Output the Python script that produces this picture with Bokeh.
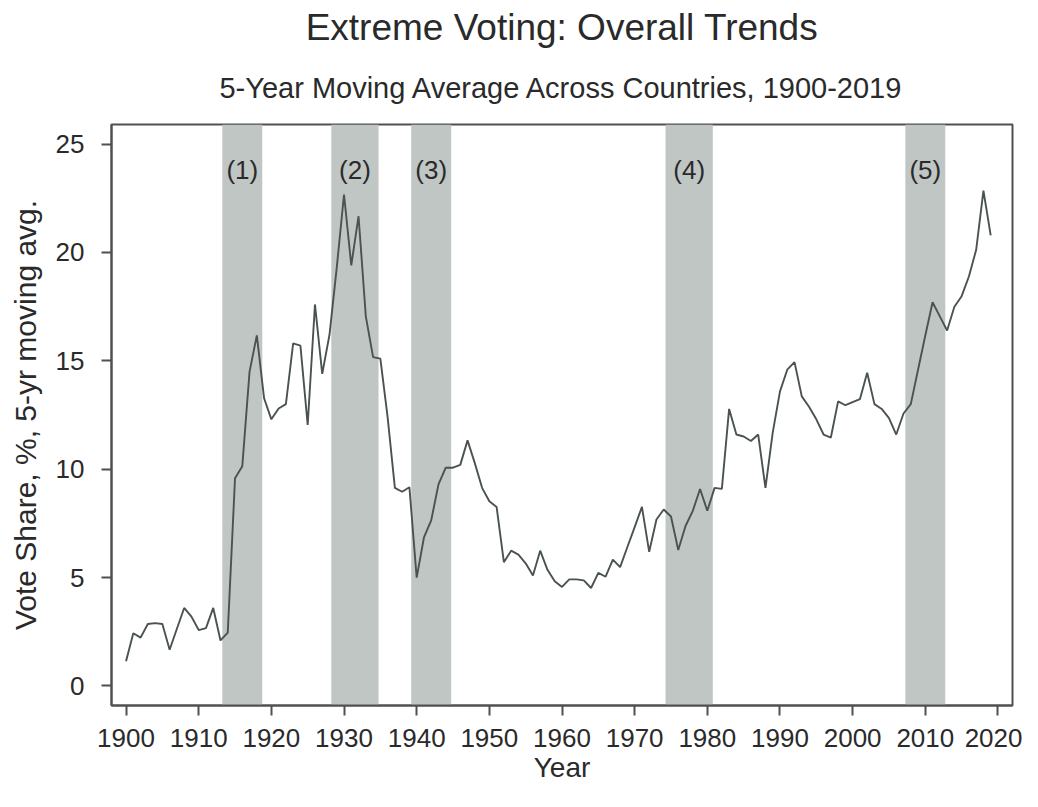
from bokeh.plotting import figure
from bokeh.models import Range1d, FixedTicker, BoxAnnotation, Title, ColumnDataSource
from bokeh.core.properties import value
from bokeh.embed import file_html
from bokeh.resources import INLINE

years = list(range(1900, 2020))
vote_share = [
    1.14, 2.43, 2.23, 2.86, 2.90, 2.86, 1.67, 2.64, 3.60, 3.20,
    2.58, 2.67, 3.60, 2.10, 2.46, 9.58, 10.14, 14.50, 16.17, 13.27,
    12.30, 12.80, 13.00, 15.80, 15.70, 12.04, 17.60, 14.40, 16.20, 19.30,
    22.67, 19.40, 21.67, 17.05, 15.17, 15.10, 12.40, 9.14, 8.96, 9.17,
    5.00, 6.85, 7.64, 9.30, 10.07, 10.07, 10.20, 11.33, 10.28, 9.14,
    8.52, 8.26, 5.71, 6.24, 6.06, 5.66, 5.10, 6.24, 5.36, 4.83,
    4.57, 4.92, 4.92, 4.87, 4.52, 5.22, 5.04, 5.83, 5.48, 6.41,
    7.33, 8.26, 6.19, 7.68, 8.14, 7.82, 6.27, 7.38, 8.08, 9.09,
    8.08, 9.14, 9.09, 12.78, 11.60, 11.51, 11.30, 11.60, 9.14, 11.69,
    13.59, 14.59, 14.94, 13.36, 12.88, 12.30, 11.60, 11.46, 13.13, 12.95,
    13.09, 13.23, 14.45, 13.00, 12.78, 12.36, 11.60, 12.57, 13.00, 14.59,
    16.17, 17.70, 17.05, 16.40, 17.49, 17.98, 18.89, 20.12, 22.85, 20.79,
]

band_starts = [1913.25, 1928.25, 1939.25, 1974.25, 2007.25]
band_ends = [1918.75, 1934.75, 1944.75, 1980.75, 2012.75]
band_labels = ["(1)", "(2)", "(3)", "(4)", "(5)"]
band_label_y = 23.8

x_ticks = list(range(1900, 2021, 10))
y_ticks = [0, 5, 10, 15, 20, 25]

title_text = "Extreme Voting: Overall Trends"
subtitle_text = "5-Year Moving Average Across Countries, 1900-2019"
x_label = "Year"
y_label = "Vote Share, %, 5-yr moving avg."

FONT = "Liberation Sans"
TXT = "#2a2a2a"
AX = "#505050"

p = figure(width=1022, height=791, output_backend="svg", toolbar_location=None,
           title=None,
           x_range=Range1d(1898, 2022), y_range=Range1d(-0.9, 25.9),
           min_border_left=111, min_border_right=10, min_border_top=124, min_border_bottom=86)

p.add_layout(Title(text=subtitle_text, align="center", text_font=FONT, text_font_size="29px",
                   text_font_style="normal", text_color=TXT, standoff=41), "above")
p.add_layout(Title(text=title_text, align="center", text_font=FONT, text_font_size="37px",
                   text_font_style="normal", text_color=TXT, standoff=3), "above")

p.xgrid.visible = False
p.ygrid.visible = False
p.background_fill_color = "white"
p.border_fill_color = "white"
p.outline_line_color = AX
p.outline_line_width = 2
p.outline_line_alpha = 1

for s, e in zip(band_starts, band_ends):
    p.add_layout(BoxAnnotation(left=s, right=e, fill_color="#c0c6c4", fill_alpha=1,
                               line_color=None, level="underlay"))

centers = [(s + e) / 2 for s, e in zip(band_starts, band_ends)]
src = ColumnDataSource(dict(x=centers, y=[band_label_y] * len(centers), t=band_labels))
p.text(x="x", y="y", text="t", source=src, text_font=value(FONT), text_font_size="26px",
       text_color=TXT, text_align="center", text_baseline="middle")

p.line(years, vote_share, line_color="#4a5252", line_width=1.9)

p.xaxis.ticker = FixedTicker(ticks=x_ticks)
p.yaxis.ticker = FixedTicker(ticks=y_ticks)
for ax in (p.xaxis[0], p.yaxis[0]):
    ax.axis_line_color = AX
    ax.axis_line_width = 2
    ax.major_tick_line_color = AX
    ax.major_tick_line_width = 2
    ax.major_tick_out = 10
    ax.major_tick_in = 0
    ax.minor_tick_line_color = None
    ax.major_label_text_font = FONT
    ax.major_label_text_color = TXT
    ax.axis_label_text_font = FONT
    ax.axis_label_text_color = TXT
    ax.axis_label_text_font_style = "normal"

p.xaxis.major_label_text_font_size = "26px"
p.xaxis.major_label_standoff = 13
p.xaxis.axis_label = x_label
p.xaxis.axis_label_text_font_size = "28px"
p.xaxis.axis_label_standoff = 2

p.yaxis.major_label_text_font_size = "26px"
p.yaxis.major_label_standoff = 17
p.yaxis.major_label_orientation = "horizontal"
p.yaxis.axis_label = y_label
p.yaxis.axis_label_text_font_size = "30px"
p.yaxis.axis_label_standoff = 11

open("out.html", "w").write(file_html(p, INLINE))
